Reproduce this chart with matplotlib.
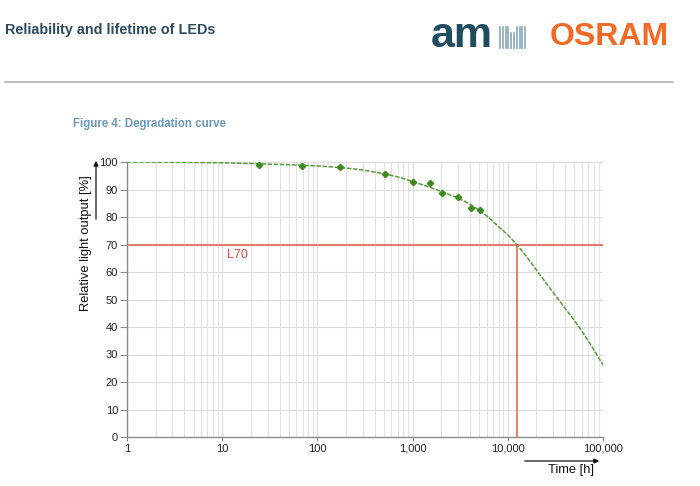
import matplotlib.pyplot as plt
from matplotlib.ticker import FixedLocator, LogLocator, NullFormatter
from matplotlib.patches import FancyArrowPatch
from matplotlib.lines import Line2D

# measured points (time in h, relative light output in %)
meas_t = [24.5, 69, 172, 513, 1016, 1515, 2050, 3020, 4070, 5100]
meas_y = [99.0, 98.4, 98.3, 95.7, 92.6, 92.3, 88.8, 87.4, 83.2, 82.4]

# fitted degradation curve
fit_t = [1, 2, 5, 10, 20, 50, 100, 200, 300, 500, 700, 1000, 1500, 2000,
         3000, 4000, 5000, 6300, 8000, 10000, 12400, 16000, 20400, 27000,
         34000, 45000, 57300, 72000, 86000, 100000]
fit_y = [100, 99.95, 99.85, 99.7, 99.45, 99.0, 98.6, 97.8, 97.1, 95.7, 94.6,
         92.9, 90.9, 89.3, 86.9, 84.7, 82.5, 79.8, 76.5, 73.5, 70.0, 65.3,
         60.3, 54.6, 50.0, 44.5, 39.5, 34.3, 30.0, 26.2]

l70_t = 12400
l70_y = 70

x_ticks = [1, 10, 100, 1000, 10000, 100000]
x_labels = ['1', '10', '100', '1,000', '10,000', '100,000']
y_ticks = list(range(0, 101, 10))

fig = plt.figure(figsize=(7, 4.86), dpi=100)
plt.rcParams['font.family'] = ['Liberation Sans', 'DejaVu Sans']

W, H = 700, 486


def fx(px):
    return px / W


def fy(py):
    return 1 - py / H


# page header
fig.text(fx(5), fy(30), 'Reliability and lifetime of LEDs', fontsize=10.4,
         fontweight='bold', color='#2d4b5e', va='center', ha='left')
fig.text(fx(431), fy(36), 'am', fontsize=31, fontweight='bold',
         color='#1f4c5e', va='center', ha='left')
for i in range(10):
    x0 = 500 + i * 2.8
    top = 27 if i not in (4, 5) else 33
    fig.add_artist(Line2D([fx(x0), fx(x0)], [fy(48), fy(top)],
                          color='#8aa8b8', lw=1.2))
fig.text(fx(550), fy(37), 'OSRAM', fontsize=23, fontweight='bold',
         color='#f46a25', va='center', ha='left')
fig.add_artist(Line2D([fx(5), fx(673)], [fy(82), fy(82)],
                      color='#b4b4b4', lw=1.2))
fig.text(fx(73), fy(124), 'Figure 4: Degradation curve', fontsize=8.3,
         fontweight='bold', color='#6d98b9', va='center', ha='left')

ax = fig.add_axes([fx(127), fy(437), fx(603 - 127), (437 - 162) / H])
ax.set_xscale('log')
ax.set_xlim(1, 100000)
ax.set_ylim(0, 100)

ax.xaxis.set_major_locator(FixedLocator(x_ticks))
ax.set_xticklabels(x_labels)
ax.xaxis.set_minor_locator(LogLocator(base=10, subs=range(2, 10)))
ax.xaxis.set_minor_formatter(NullFormatter())
ax.set_yticks(y_ticks)

ax.grid(True, which='major', color='#dcdcdc', lw=0.8)
ax.grid(True, which='minor', axis='x', color='#e2e2e2', lw=0.7)
ax.set_axisbelow(True)

for s in ['top', 'right']:
    ax.spines[s].set_visible(False)
for s in ['left', 'bottom']:
    ax.spines[s].set_color('#8a8a8a')
    ax.spines[s].set_linewidth(1.0)
ax.tick_params(axis='both', which='major', labelsize=8, colors='#8a8a8a',
               labelcolor='#222222', length=5)
ax.tick_params(axis='y', pad=1.5)
ax.tick_params(axis='x', which='minor', length=0)
ax.tick_params(axis='x', which='major', length=3, pad=2)

# L70 lines
ax.axhline(l70_y, color='#e8564c', lw=1.1, zorder=2)
ax.plot([l70_t, l70_t], [0, l70_y], color='#e8564c', lw=1.1, zorder=2)
ax.text(14.3, 66.2, 'L70', color='#e04a40', fontsize=9, ha='center',
        va='center')

ax.plot(fit_t, fit_y, color='#5a9a3c', lw=1.1, ls=(0, (3, 1)), zorder=3)
ax.plot(meas_t, meas_y, ls='none', marker='D', ms=3.2, color='#3d8a1f',
        zorder=4)

# axis labels with arrows
fig.text(fx(86), fy(243), 'Relative light output [%]', rotation=90,
         fontsize=9.3, color='#111111', ha='center', va='center')
fig.add_artist(FancyArrowPatch((fx(96), fy(222)), (fx(96), fy(158)),
                               arrowstyle='-|>', mutation_scale=7,
                               color='#111111', lw=0.9))
fig.text(fx(571), fy(470), 'Time [h]', fontsize=9.3, color='#111111',
         ha='center', va='center')
fig.add_artist(FancyArrowPatch((fx(522), fy(461)), (fx(602), fy(461)),
                               arrowstyle='-|>', mutation_scale=7,
                               color='#111111', lw=0.9))

fig.savefig('out.png', dpi=100)
